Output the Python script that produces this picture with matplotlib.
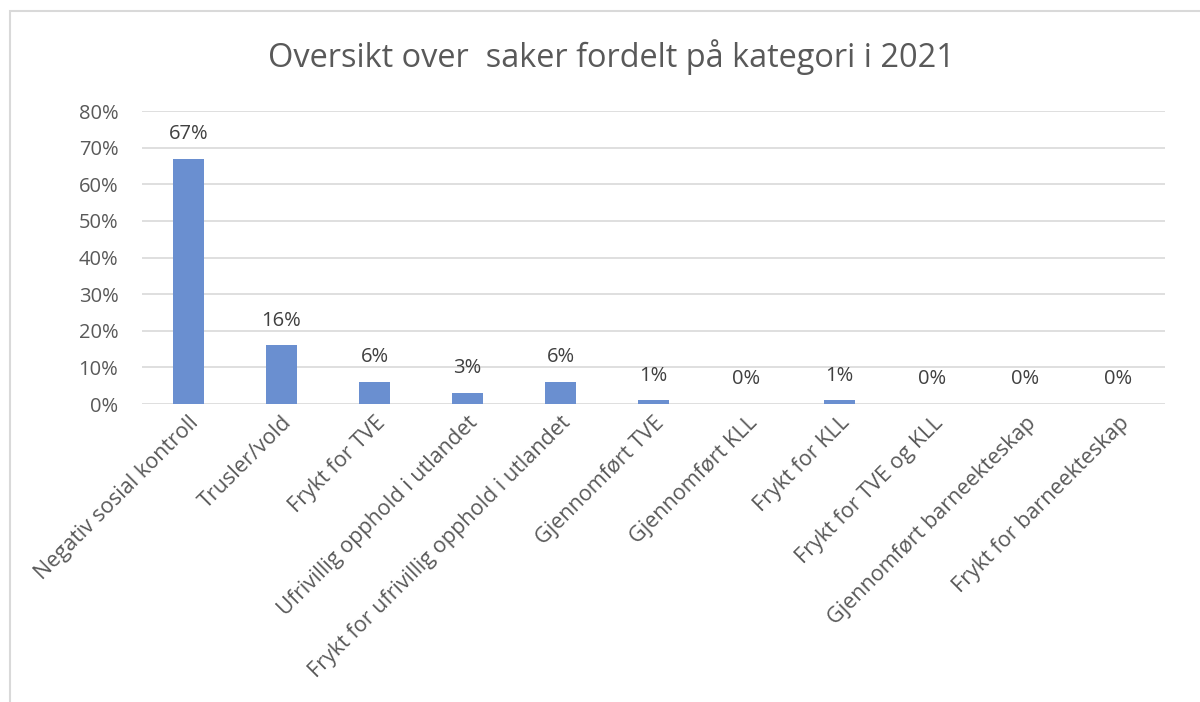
import matplotlib
matplotlib.use("Agg")
import matplotlib.pyplot as plt
from matplotlib.patches import Rectangle

categories = ["Negativ sosial kontroll", "Trusler/vold", "Frykt for TVE",
              "Ufrivillig opphold i utlandet", "Frykt for ufrivillig opphold i utlandet",
              "Gjennomført TVE", "Gjennomført KLL", "Frykt for KLL",
              "Frykt for TVE og KLL", "Gjennomført barneekteskap", "Frykt for barneekteskap"]
values = [67, 16, 6, 3, 6, 1, 0, 1, 0, 0, 0]
yticks = [0, 10, 20, 30, 40, 50, 60, 70, 80]
title = "Oversikt over  saker fordelt på kategori i 2021"

plt.rcParams['font.family'] = ['Open Sans', 'DejaVu Sans']
W, H = 1200, 702
fig = plt.figure(figsize=(W / 100, H / 100), dpi=100)
fig.patches.append(Rectangle((10 / W, -0.1), 1.2, 1 - 11 / H + 0.1, transform=fig.transFigure,
                             fill=False, edgecolor='#d9d9d9', linewidth=1.5))
ax = fig.add_axes([142 / W, 1 - 404 / H, (1165 - 142) / W, (404 - 111) / H])

x = list(range(len(categories)))
ax.bar(x, values, width=0.33, color='#6A8FD0', zorder=3)
for xi, v in zip(x, values):
    ax.annotate(f"{v}%", (xi, v), xytext=(0, 10.5), textcoords='offset points',
                ha='center', va='bottom', fontsize=14.5, color='#404040')

ax.set_xlim(-0.5, len(categories) - 0.5)
ax.set_ylim(0, 80)
ax.set_yticks(yticks)
ax.set_yticklabels([f"{t}%" for t in yticks], fontsize=14.5, color='#595959')
ax.set_xticks(x)
ax.set_xticklabels(categories, rotation=45, ha='right', rotation_mode='anchor',
                   fontsize=15.5, color='#595959')
ax.tick_params(axis='both', length=0)
ax.tick_params(axis='x', pad=6)
ax.tick_params(axis='y', pad=17)
ax.grid(axis='y', color='#d9d9d9', linewidth=1.2, zorder=0)
for s in ax.spines.values():
    s.set_visible(False)

fig.text(611 / W, 1 - 57 / H, title, ha='center', va='center', fontsize=23.4, color='#595959')

fig.savefig("out.png", dpi=100)
